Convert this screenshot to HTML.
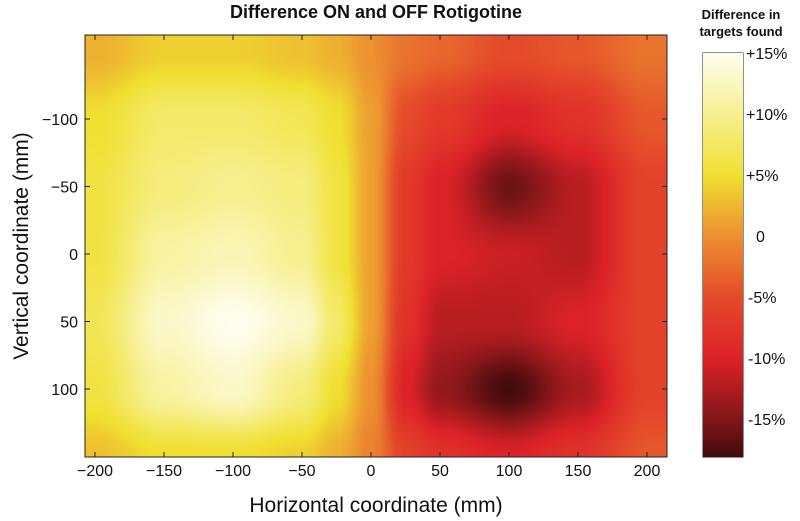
<!DOCTYPE html>
<html><head><meta charset="utf-8">
<style>
body{margin:0;background:#fff;width:800px;height:521px;overflow:hidden;font-family:"Liberation Sans",sans-serif;}
#wrap{position:relative;width:800px;height:521px;}
canvas{position:absolute;}
.t{position:absolute;white-space:nowrap;color:#111;}
</style></head><body>
<div id="wrap">
<div class="t" style="left:0;width:752px;text-align:center;top:2px;font-size:18px;font-weight:bold;">Difference ON and OFF Rotigotine</div>
<canvas id="hm" width="582" height="422" style="left:85px;top:35px;"></canvas>
<svg id="ax" width="800" height="521" style="position:absolute;left:0;top:0"></svg>
<canvas id="cb" width="40" height="404" style="left:703px;top:53px;"></canvas>
<div class="t" style="left:680px;width:122px;text-align:center;top:6px;font-size:13px;font-weight:bold;line-height:17px;">Difference in<br>targets found</div>
<div class="t" style="left:85px;width:582px;text-align:center;top:494px;font-size:21px;">Horizontal coordinate (mm)</div>
<div class="t" style="top:246px;font-size:21px;transform:translate(-50%,-50%) rotate(-90deg);transform-origin:center;left:22px;">Vertical coordinate (mm)</div>
</div>
<script>
const xGrid=[-200,-150,-100,-50,-25,0,25,50,100,150,200];
const yGrid=[-150,-100,-50,0,50,100,150];
const values=[
[2,4,4,3,2,0,-2,-3,-5,-4,-2],
[5,8,8,7,5,1,-5,-7,-10,-8,-4],
[6,9,10,9,6,1,-7,-10,-16,-12,-6],
[6,11,12,10,6,1,-7,-10,-11,-12,-6],
[7,13,15,13,8,1,-8,-12,-12,-10,-6],
[6,11,13,9,5,0,-10,-14,-18,-13,-6],
[3,5,5,4,2,-1,-6,-8,-10,-8,-4]];
const xTicks=[-200,-150,-100,-50,0,50,100,150,200];
const yTicks=[-100,-50,0,50,100];
const cbTicks=[15,10,5,0,-5,-10,-15];
const cbLabels=['+15%','+10%','+5%','0','-5%','-10%','-15%'];
const X0=85,Y0=35,W=582,H=422;
const xs=v=>95+(v+200)*552/400;
const ys=v=>254+v*1.35;
const cbY=v=>236-v*12.2;
const stops=[[-18.4,[60,10,12]],[-15,[130,22,24]],[-10,[220,34,40]],[-5,[229,74,42]],[0,[236,144,48]],[5,[240,224,48]],[10,[247,240,144]],[15.6,[255,255,250]]];
function cmap(v){if(v<=stops[0][0])return stops[0][1];for(let i=1;i<stops.length;i++){if(v<=stops[i][0]){const a=stops[i-1],b=stops[i],t=(v-a[0])/(b[0]-a[0]);return a[1].map((c,k)=>Math.round(c+(b[1][k]-c)*t));}}return stops[stops.length-1][1];}
function seg(arr,v){let i=0;while(i<arr.length-2&&v>arr[i+1])i++;let t=(v-arr[i])/(arr[i+1]-arr[i]);t=Math.max(0,Math.min(1,t));return [i,t*t*(3-2*t)];}
function interp(x,y){
 const [i,tx]=seg(xGrid,x),[j,ty]=seg(yGrid,y);
 const a=values[j][i],b=values[j][i+1],c=values[j+1][i],d=values[j+1][i+1];
 return (a*(1-tx)+b*tx)*(1-ty)+(c*(1-tx)+d*tx)*ty;}
const hm=document.getElementById('hm').getContext('2d');
const img=hm.createImageData(W,H);
for(let py=0;py<H;py++)for(let px=0;px<W;px++){
 const dx=(px+X0-95)*400/552-200, dy=(py+Y0-254)/1.35;
 const c=cmap(interp(dx,dy));const o=(py*W+px)*4;
 img.data[o]=c[0];img.data[o+1]=c[1];img.data[o+2]=c[2];img.data[o+3]=255;}
hm.putImageData(img,0,0);
const cb=document.getElementById('cb').getContext('2d');
for(let py=0;py<404;py++){const v=(236-(py+53))/12.2;const c=cmap(v);cb.fillStyle=`rgb(${c})`;cb.fillRect(0,py,40,1);}
const svg=document.getElementById('ax');const NS='http://www.w3.org/2000/svg';
function mk(t,a){const e=document.createElementNS(NS,t);for(const k in a)e.setAttribute(k,a[k]);svg.appendChild(e);return e;}
const fr=mk('rect',{x:X0,y:Y0,width:W,height:H,fill:'none',stroke:'#222','stroke-width':1});


const cf=mk('rect',{x:703,y:53,width:40,height:404,fill:'none',stroke:'#222','stroke-width':1});


xTicks.forEach(v=>{const x=xs(v);
 mk('line',{x1:x,x2:x,y1:Y0+H,y2:Y0+H-5,stroke:'#222'});mk('line',{x1:x,x2:x,y1:Y0,y2:Y0+5,stroke:'#222'});
 const t=mk('text',{x:x,y:476,'text-anchor':'middle','font-size':16,fill:'#111','font-family':'Liberation Sans'});t.textContent=v<0?'\u2212'+(-v):v;
 
 });
yTicks.forEach(v=>{const y=ys(v);
 mk('line',{x1:X0,x2:X0+5,y1:y,y2:y,stroke:'#222'});mk('line',{x1:X0+W,x2:X0+W-5,y1:y,y2:y,stroke:'#222'});
 const t=mk('text',{x:78,y:y+6,'text-anchor':'end','font-size':16,fill:'#111','font-family':'Liberation Sans'});t.textContent=v<0?'\u2212'+(-v):v;
 
 });
cbTicks.forEach((v,i)=>{const y=cbY(v);
 mk('line',{x1:743,x2:740,y1:y,y2:y,stroke:'#222'});mk('line',{x1:703,x2:706,y1:y,y2:y,stroke:'#222'});
 const t=mk('text',{x:v===0?756:(v>0?746:748),y:y+6,'font-size':16,fill:'#111','font-family':'Liberation Sans'});t.textContent=cbLabels[i];
 
 });
</script>
</body></html>
